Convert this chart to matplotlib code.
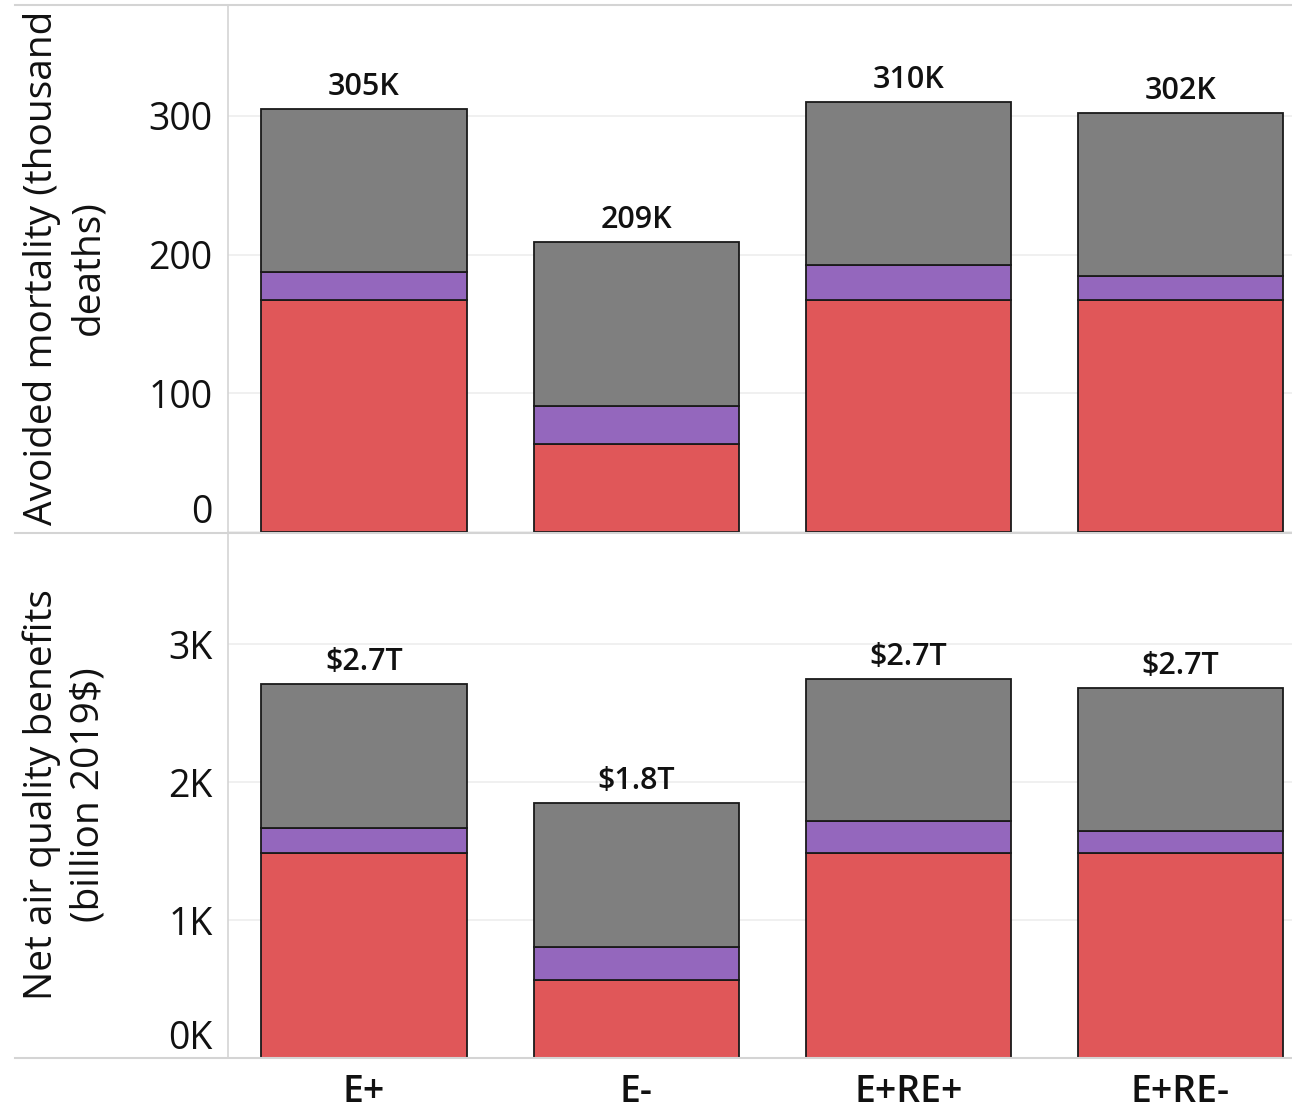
import matplotlib
matplotlib.use("Agg")
import matplotlib.pyplot as plt
from matplotlib.lines import Line2D

plt.rcParams['font.family'] = ['Open Sans', 'DejaVu Sans']

# Scenarios and stacked components (bottom -> top)
scenarios = ["E+", "E-", "E+RE+", "E+RE-"]

# Avoided mortality, thousand deaths
mort_red = [167, 63.5, 167, 167]
mort_purple = [20.5, 27.5, 25.8, 17.8]
mort_gray = [117.5, 118, 117.2, 117.2]

# Net air quality benefits, billion 2019$
ben_red = [1488, 565, 1488, 1488]
ben_purple = [176, 242, 227, 155]
ben_gray = [1044, 1039, 1030, 1036]

RED = "#E05759"
PURPLE = "#9467BD"
GRAY = "#7F7F7F"
GRID = "#EDEDED"
RULE = "#D4D4D4"
INK = "#111111"

W, H = 1292, 1111
fig = plt.figure(figsize=(W / 100, H / 100), dpi=100)

left = 228 / W
ax_top = fig.add_axes([left, 1 - 532 / H, 1 - left, (532 - 5) / H])
ax_bot = fig.add_axes([left, 1 - 1058 / H, 1 - left, (1058 - 533) / H])

x = list(range(len(scenarios)))
bw = 0.754


def stack(ax, red, purple, gray):
    b1 = [r + p for r, p in zip(red, purple)]
    kw = dict(width=bw, edgecolor="#1a1a1a", linewidth=1.3, zorder=3)
    ax.bar(x, red, color=RED, **kw)
    ax.bar(x, purple, bottom=red, color=PURPLE, **kw)
    ax.bar(x, gray, bottom=b1, color=GRAY, **kw)
    return [a + g for a, g in zip(b1, gray)]


tot_m = stack(ax_top, mort_red, mort_purple, mort_gray)
tot_b = stack(ax_bot, ben_red, ben_purple, ben_gray)

for i, t in enumerate(tot_m):
    ax_top.annotate(f"{t:.0f}K", (i, t), xytext=(0, 5), textcoords="offset points",
                    ha="center", va="bottom", fontsize=22, fontweight="semibold", color=INK)
for i, t in enumerate(tot_b):
    ax_bot.annotate(f"${t / 1000:.1f}T", (i, t), xytext=(0, 5), textcoords="offset points",
                    ha="center", va="bottom", fontsize=22, fontweight="semibold", color=INK)

ax_top.set_ylim(0, 380)
ax_top.set_yticks([0, 100, 200, 300])
ax_top.set_yticklabels(["0", "100", "200", "300"])
ax_bot.set_ylim(0, 3805)
ax_bot.set_yticks([0, 1000, 2000, 3000])
ax_bot.set_yticklabels(["0K", "1K", "2K", "3K"])

for ax in (ax_top, ax_bot):
    ax.set_xlim(-0.5, 3.41)
    for s in ax.spines.values():
        s.set_visible(False)
    ax.spines["left"].set_visible(True)
    ax.spines["left"].set_color(RULE)
    ax.spines["left"].set_linewidth(1.2)
    ax.grid(axis="y", color=GRID, linewidth=1.2, zorder=0)
    ax.set_axisbelow(True)
    ax.tick_params(axis="y", length=0, pad=11, labelsize=27, labelcolor=INK)
    ax.tick_params(axis="x", length=0)
    # lowest tick label sits just above the baseline
    ax.get_yticklabels()[0].set_verticalalignment("bottom")

ax_top.set_xticks(x)
ax_top.set_xticklabels([])
ax_bot.set_xticks(x)
ax_bot.set_xticklabels(scenarios, fontsize=27, fontweight="semibold", color=INK)
ax_bot.tick_params(axis="x", pad=11)

# Horizontal rules framing the panels, spanning the label column too
for yp in (5, 533, 1058):
    fig.add_artist(Line2D([15 / W, 1], [1 - yp / H, 1 - yp / H],
                          color=RULE, linewidth=1.5, transform=fig.transFigure))

fig.text(65 / W, 1 - 268 / H, "Avoided mortality (thousand\ndeaths)", rotation=90,
         ha="center", va="center", multialignment="center", fontsize=28,
         linespacing=1.3, color=INK)
fig.text(65 / W, 1 - 795 / H, "Net air quality benefits\n(billion 2019$)", rotation=90,
         ha="center", va="center", multialignment="center", fontsize=28,
         linespacing=1.3, color=INK)

fig.savefig("out.png", dpi=100)
